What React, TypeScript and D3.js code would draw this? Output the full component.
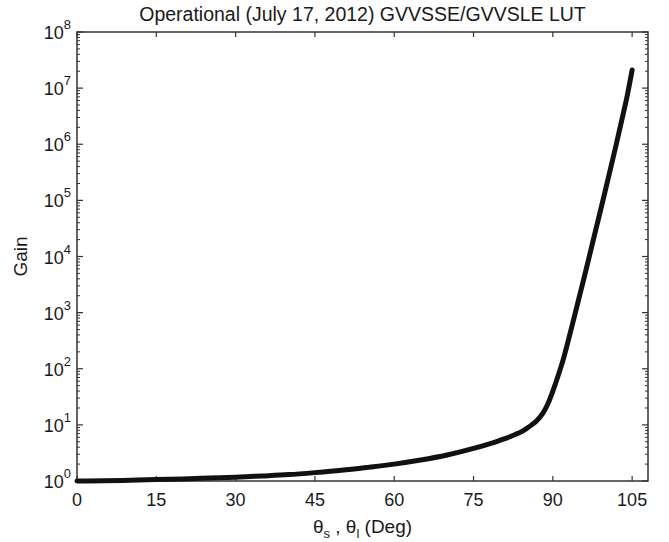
import React from 'react';
import * as d3 from 'd3';

// angle (deg) vs gain
const angles = [0, 5, 10, 15, 20, 25, 30, 35, 40, 45, 50, 55, 60, 65, 70, 75, 78, 80, 82, 83, 84, 85, 86, 87, 88, 89, 90, 91, 92, 93, 94, 95, 96, 97, 98, 99, 100, 101, 102, 103, 104, 105];
const gains = [1.0, 1.01, 1.03, 1.06, 1.09, 1.13, 1.17, 1.23, 1.3, 1.41, 1.55, 1.75, 2.0, 2.36, 2.9, 3.8, 4.6, 5.3, 6.2, 6.8, 7.5, 8.6, 10, 12, 15.5, 23, 40, 75, 150, 340, 800, 1900, 4500, 1.1e4, 2.7e4, 6.5e4, 1.6e5, 4.0e5, 1.0e6, 2.6e6, 6.8e6, 2.1e7];

const xTicks = [0, 15, 30, 45, 60, 75, 90, 105];
const yExponents = [0, 1, 2, 3, 4, 5, 6, 7, 8];

const W = 669;
const H = 542;
const margin = { top: 32, right: 21, bottom: 61, left: 77 };
const font = '"Liberation Sans", Arial, Helvetica, sans-serif';
const axisColor = '#333';
const textColor = '#1a1a1a';

export default function App() {
  const innerW = W - margin.left - margin.right;
  const innerH = H - margin.top - margin.bottom;

  const x = d3.scaleLinear().domain([0, 108]).range([0, innerW]);
  const y = d3.scaleLog().domain([1, 1e8]).range([innerH, 0]);

  const points: [number, number][] = angles.map((a, i) => [a, gains[i]]);
  const line = d3.line<[number, number]>()
    .x(d => x(d[0]))
    .y(d => y(d[1]))
    .curve(d3.curveMonotoneX);

  const minor: number[] = [];
  for (let e = 0; e < 8; e++) {
    for (let m = 2; m <= 9; m++) minor.push(m * Math.pow(10, e));
  }

  return (
    <svg width={W} height={H} style={{ position: 'absolute', left: 0, top: 0, background: '#fff' }} fontFamily={font}>
      <text x={margin.left + innerW / 2} y={21} textAnchor="middle" fontSize={19.5} fill={textColor}>
        Operational (July 17, 2012) GVVSSE/GVVSLE LUT
      </text>
      <g transform={`translate(${margin.left},${margin.top})`}>
        {/* x ticks, bottom and top */}
        {xTicks.map(t => (
          <g key={`x${t}`}>
            <line x1={x(t)} x2={x(t)} y1={innerH} y2={innerH - 5} stroke={axisColor} strokeWidth={1.2} />
            <line x1={x(t)} x2={x(t)} y1={0} y2={5} stroke={axisColor} strokeWidth={1.2} />
            <text x={x(t)} y={innerH + 25} textAnchor="middle" fontSize={18} fill={textColor}>{t}</text>
          </g>
        ))}
        {/* y minor ticks */}
        {minor.map(v => (
          <g key={`m${v}`}>
            <line x1={0} x2={3} y1={y(v)} y2={y(v)} stroke={axisColor} strokeWidth={1} />
            <line x1={innerW} x2={innerW - 3} y1={y(v)} y2={y(v)} stroke={axisColor} strokeWidth={1} />
          </g>
        ))}
        {/* y major ticks */}
        {yExponents.map(e => {
          const v = Math.pow(10, e);
          return (
            <g key={`y${e}`}>
              <line x1={0} x2={6} y1={y(v)} y2={y(v)} stroke={axisColor} strokeWidth={1.2} />
              <line x1={innerW} x2={innerW - 6} y1={y(v)} y2={y(v)} stroke={axisColor} strokeWidth={1.2} />
              <text x={-6} y={y(v) + 7} textAnchor="end" fontSize={18} fill={textColor}>
                10<tspan dy={-10} fontSize={13}>{e}</tspan>
              </text>
            </g>
          );
        })}
        <rect x={0} y={0} width={innerW} height={innerH} fill="none" stroke={axisColor} strokeWidth={1.5} />
        <path d={line(points) || ''} fill="none" stroke="#111" strokeWidth={5} strokeLinejoin="round" strokeLinecap="round" />
      </g>
      <text x={margin.left + innerW / 2} y={533} textAnchor="middle" fontSize={19} fill={textColor}>
        θ<tspan dy={5} fontSize={13}>s</tspan><tspan dy={-5}> , θ</tspan><tspan dy={5} fontSize={13}>l</tspan><tspan dy={-5}> (Deg)</tspan>
      </text>
      <text transform={`translate(27,${margin.top + innerH / 2}) rotate(-90)`} textAnchor="middle" fontSize={19} fill={textColor}>
        Gain
      </text>
    </svg>
  );
}
